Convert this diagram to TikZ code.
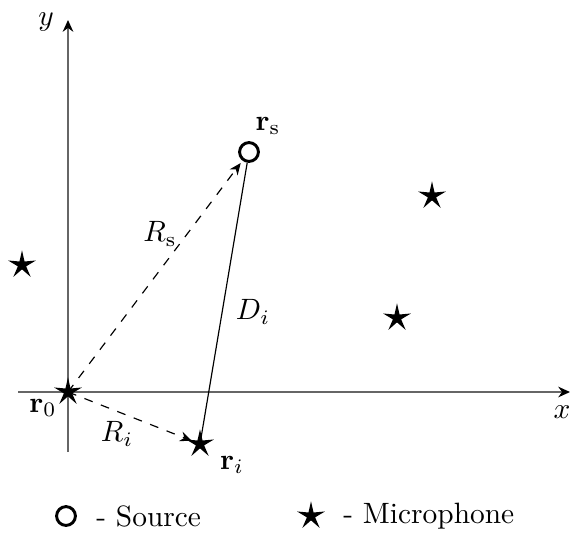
\documentclass[tikz,border=0pt]{standalone}
\usepackage{amsmath,amssymb}
\usepackage{tikz}
\usetikzlibrary{arrows.meta,shapes.geometric}
\tikzset{
  micstar/.style={star, star points=5, star point ratio=3.4, fill=black, draw=none, minimum size=10pt, inner sep=0pt},
  srccircle/.style={circle, draw=black, line width=1pt, minimum size=6.4pt, inner sep=0pt},
  axisarrow/.style={-{Stealth[length=4pt,width=3.6pt,color=black]}, draw=black!60, line width=0.6pt},
  distarrow/.style={-{Stealth[length=4pt,width=3.4pt]}, dashed, thin},
  distline/.style={thin}
}

\begin{document}
\begin{tikzpicture}[x=0.34pt, y=-0.34pt]
  \useasboundingbox (0,0) rectangle (571,533);
  % axes
  \coordinate (xstart) at (18,392);
  \coordinate (xend) at (570,392);
  \coordinate (ystart) at (68,452);
  \coordinate (yend) at (68,20);
  \draw[axisarrow] (xstart) -- (xend);
  \draw[axisarrow] (ystart) -- (yend);
  \node (xlabel) at (562,412) {$x$};
  \node (ylabel) at (46,22) {$y$};
  % source and microphones
  \node[srccircle] (source) at (249,152) {};
  \node[micstar] (mic0) at (68,392) {};
  \node[micstar] (mici) at (200,444) {};
  \node[micstar] (mica) at (22,265) {};
  \node[micstar] (micb) at (432,196) {};
  \node[micstar] (micc) at (397,318) {};
  \node (rs) at (268,126) {$\mathbf{r}_{\mathrm{s}}$};
  \node (r0) at (43,408) {$\mathbf{r}_0$};
  \node (ri) at (232,465) {$\mathbf{r}_i$};
  % distances
  \draw[distarrow, shorten >=1pt] (mic0.center) -- (source);
  \draw[distarrow, shorten >=3pt] (mic0.center) -- (mici.center);
  \draw[distline] (source) -- (mici.center);
  \node (Rs) at (160,234) {$R_{\mathrm{s}}$};
  \node (Di) at (253,312) {$D_i$};
  \node (Ri) at (117,434) {$R_i$};
  % legend
  \node[srccircle] (legsrc) at (66,516) {};
  \node[anchor=west] (legsrctext) at (86,516) {- Source};
  \node[micstar] (legmic) at (311,516) {};
  \node[anchor=west] (legmictext) at (333,516) {- Microphone};
\end{tikzpicture}
\end{document}
